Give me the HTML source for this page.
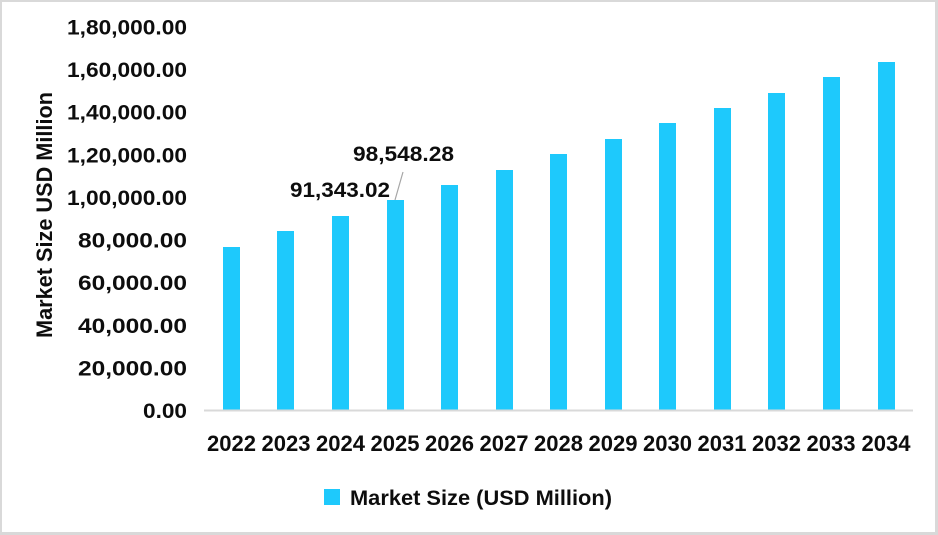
<!DOCTYPE html>
<html>
<head>
<meta charset="utf-8">
<style>
html,body{margin:0;padding:0;background:#fff;}
svg{display:block;}
text{font-family:"Liberation Sans",Arial,sans-serif;font-weight:bold;fill:#0d0d0d;}
</style>
</head>
<body>
<svg width="938" height="535" viewBox="0 0 938 535" xmlns="http://www.w3.org/2000/svg">
  <rect x="0" y="0" width="938" height="535" fill="#ffffff"/>
  <!-- border -->
  <rect x="0" y="0" width="938" height="2" fill="#d9d9d9"/>
  <rect x="0" y="0" width="2" height="535" fill="#d9d9d9"/>
  <rect x="935" y="0" width="3" height="535" fill="#d9d9d9"/>
  <rect x="0" y="532" width="938" height="3" fill="#d9d9d9"/>

  <!-- y axis title -->
  <text transform="translate(52,215) rotate(-90)" text-anchor="middle" font-size="22" textLength="246" lengthAdjust="spacingAndGlyphs">Market Size USD Million</text>

  <!-- y tick labels -->
  <g font-size="21.5" text-anchor="end">
    <text x="187" y="418" textLength="44" lengthAdjust="spacingAndGlyphs">0.00</text>
    <text x="187" y="375.4" textLength="109" lengthAdjust="spacingAndGlyphs">20,000.00</text>
    <text x="187" y="332.8" textLength="109" lengthAdjust="spacingAndGlyphs">40,000.00</text>
    <text x="187" y="290.1" textLength="109" lengthAdjust="spacingAndGlyphs">60,000.00</text>
    <text x="187" y="247.5" textLength="109" lengthAdjust="spacingAndGlyphs">80,000.00</text>
    <text x="187" y="204.9" textLength="120" lengthAdjust="spacingAndGlyphs">1,00,000.00</text>
    <text x="187" y="162.3" textLength="120" lengthAdjust="spacingAndGlyphs">1,20,000.00</text>
    <text x="187" y="119.7" textLength="120" lengthAdjust="spacingAndGlyphs">1,40,000.00</text>
    <text x="187" y="77.0" textLength="120" lengthAdjust="spacingAndGlyphs">1,60,000.00</text>
    <text x="187" y="34.5" textLength="120" lengthAdjust="spacingAndGlyphs">1,80,000.00</text>
  </g>

  <!-- bars -->
  <g fill="#1ec9fc">
    <rect x="223" y="247" width="17" height="163"/>
    <rect x="277" y="231" width="17" height="179"/>
    <rect x="332" y="216" width="17" height="194"/>
    <rect x="387" y="200" width="17" height="210"/>
    <rect x="441" y="185" width="17" height="225"/>
    <rect x="496" y="170" width="17" height="240"/>
    <rect x="550" y="154" width="17" height="256"/>
    <rect x="605" y="139" width="17" height="271"/>
    <rect x="659" y="123" width="17" height="287"/>
    <rect x="714" y="108" width="17" height="302"/>
    <rect x="768" y="93" width="17" height="317"/>
    <rect x="823" y="77" width="17" height="333"/>
    <rect x="878" y="62" width="17" height="348"/>
  </g>

  <!-- x axis line -->
  <line x1="204" y1="410.5" x2="913" y2="410.5" stroke="#d9d9d9" stroke-width="2"/>

  <!-- year labels -->
  <g font-size="22" text-anchor="middle">
    <text x="231.5" y="451" textLength="49" lengthAdjust="spacingAndGlyphs">2022</text>
    <text x="286" y="451" textLength="49" lengthAdjust="spacingAndGlyphs">2023</text>
    <text x="340.5" y="451" textLength="49" lengthAdjust="spacingAndGlyphs">2024</text>
    <text x="395" y="451" textLength="49" lengthAdjust="spacingAndGlyphs">2025</text>
    <text x="449.5" y="451" textLength="49" lengthAdjust="spacingAndGlyphs">2026</text>
    <text x="504" y="451" textLength="49" lengthAdjust="spacingAndGlyphs">2027</text>
    <text x="558.5" y="451" textLength="49" lengthAdjust="spacingAndGlyphs">2028</text>
    <text x="613" y="451" textLength="49" lengthAdjust="spacingAndGlyphs">2029</text>
    <text x="667.5" y="451" textLength="49" lengthAdjust="spacingAndGlyphs">2030</text>
    <text x="722" y="451" textLength="49" lengthAdjust="spacingAndGlyphs">2031</text>
    <text x="776.5" y="451" textLength="49" lengthAdjust="spacingAndGlyphs">2032</text>
    <text x="831" y="451" textLength="49" lengthAdjust="spacingAndGlyphs">2033</text>
    <text x="886" y="451" textLength="49" lengthAdjust="spacingAndGlyphs">2034</text>
  </g>

  <!-- data labels -->
  <text x="290" y="197" font-size="21.5" textLength="100" lengthAdjust="spacingAndGlyphs">91,343.02</text>
  <text x="353" y="161" font-size="21.5" textLength="101" lengthAdjust="spacingAndGlyphs">98,548.28</text>
  <line x1="403" y1="172" x2="395" y2="200" stroke="#a6a6a6" stroke-width="1.2"/>

  <!-- legend -->
  <rect x="324" y="489" width="16" height="16" fill="#1ec9fc"/>
  <text x="350" y="505" font-size="21.5" textLength="262" lengthAdjust="spacingAndGlyphs">Market Size (USD Million)</text>
</svg>
</body>
</html>
